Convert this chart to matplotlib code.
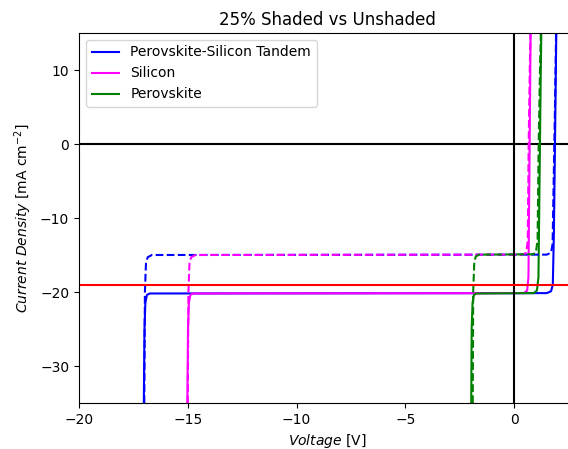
import numpy as np
import matplotlib.pyplot as plt

# IV curves (voltage in V, current density in mA cm^-2)
# unshaded = solid, 25% shaded = dashed
tandem_v = [-17.02, -16.99, -16.95, -16.88, -16.75, 1.5, 1.7, 1.78, 1.83, 1.88, 1.94]
tandem_j = [-35, -25, -21.5, -20.4, -20.2, -20.15, -19.9, -19.0, -12, 0, 15]
tandem_sh_v = [-17.0, -16.97, -16.92, -16.84, -16.65, 1.5, 1.7, 1.77, 1.82, 1.88, 1.93]
tandem_sh_j = [-35, -20, -16, -15.3, -15.0, -14.95, -14.7, -13.5, -5, 5, 15]

si_v = [-15.02, -14.99, -14.95, -14.88, -14.75, 0.45, 0.6, 0.66, 0.7, 0.74, 0.76]
si_j = [-35, -25, -21.5, -20.4, -20.2, -20.15, -19.8, -18.0, -5, 8, 15]
si_sh_v = [-15.0, -14.97, -14.92, -14.84, -14.65, 0.4, 0.56, 0.63, 0.67, 0.72, 0.75]
si_sh_j = [-35, -20, -16, -15.3, -15.0, -14.95, -14.7, -13, 0, 10, 15]

pk_v = [-1.97, -1.95, -1.91, -1.85, -1.72, 0.9, 1.05, 1.12, 1.17, 1.22, 1.25]
pk_j = [-35, -25, -21.5, -20.4, -20.2, -20.15, -19.8, -18.0, -5, 8, 15]
pk_sh_v = [-1.9, -1.88, -1.83, -1.76, -1.6, 0.85, 1.0, 1.08, 1.13, 1.19, 1.23]
pk_sh_j = [-35, -20, -16, -15.2, -14.95, -14.9, -14.7, -13, 0, 10, 15]

j_limit = -19

fig = plt.figure(figsize=(5.68, 4.49), dpi=100)
ax = fig.add_axes([79/568, 46/449, 496/568, 370/449])

ax.axhline(0, color='black')
ax.plot(tandem_v, tandem_j, color='blue', label='Perovskite-Silicon Tandem')
ax.plot(si_v, si_j, color='magenta', label='Silicon')
ax.plot(pk_v, pk_j, color='green', label='Perovskite')
ax.plot(tandem_sh_v, tandem_sh_j, color='blue', linestyle='--')
ax.plot(si_sh_v, si_sh_j, color='magenta', linestyle='--')
ax.plot(pk_sh_v, pk_sh_j, color='green', linestyle='--')
ax.axvline(0, color='black')
ax.axhline(j_limit, color='red')

ax.set_xlim(-20, 2.8)
ax.set_ylim(-35, 15)
ax.set_xticks([-20, -15, -10, -5, 0])
ax.set_title('25% Shaded vs Unshaded')
ax.set_xlabel(r'$\it{Voltage}$ [V]')
ax.set_ylabel(r'$\it{Current\ Density}$ [mA cm$^{-2}$]')
ax.legend(loc='upper left')

fig.savefig('out.png', dpi=100)
